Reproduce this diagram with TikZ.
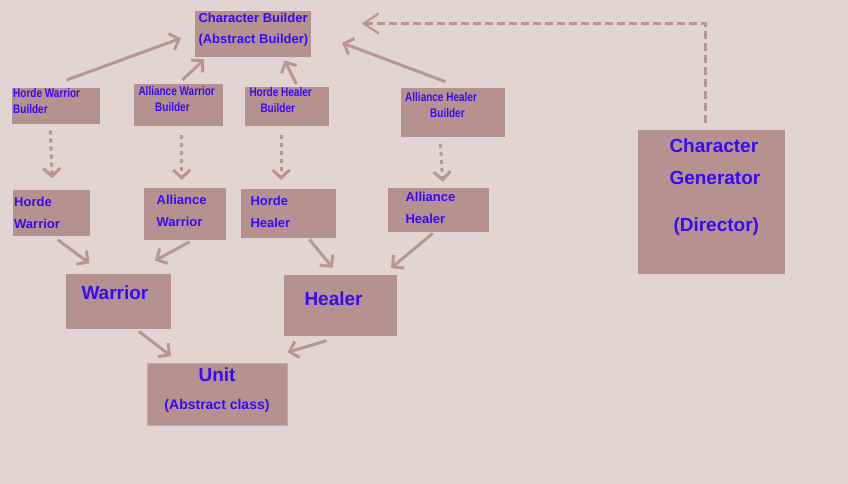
\documentclass[tikz,border=0pt]{standalone}
\usepackage{fontspec}
\setmainfont{Liberation Sans}
\usetikzlibrary{arrows.meta,calc}
\definecolor{bgc}{RGB}{227,212,212}
\definecolor{boxc}{RGB}{181,146,144}
\definecolor{linec}{RGB}{184,150,148}
\definecolor{txtc}{RGB}{56,10,245}
\definecolor{unitc}{RGB}{200,168,166}
\newcommand{\tall}[1]{\scalebox{1}[1.25]{#1}}

\begin{document}
\begin{tikzpicture}[x=1pt, y=-1pt, font=\bfseries,
	box/.style={fill=boxc, inner sep=0pt, anchor=north west},
	lbl/.style={text=txtc, inner sep=0pt, anchor=north west, align=left},
	arr/.style={linec, line width=3pt, -{Straight Barb[length=8pt,width=17pt]}},
	darr/.style={arr, line width=3pt, dash pattern=on 4pt off 4pt},
	dirarr/.style={linec, line width=2.2pt, dash pattern=on 8pt off 4pt, -{Straight Barb[length=15pt,width=20pt]}}]
	\fill[bgc] (0,0) rectangle (848,484);

	\node[box, minimum width=116pt, minimum height=46pt] (cb) at (195,11) {};
	\node[box, minimum width=88pt, minimum height=36pt] (hwb) at (12,88) {};
	\node[box, minimum width=89pt, minimum height=42pt] (awb) at (134,84) {};
	\node[box, minimum width=84pt, minimum height=39pt] (hhb) at (245,87) {};
	\node[box, minimum width=104pt, minimum height=49pt] (ahb) at (401,88) {};
	\node[box, minimum width=147pt, minimum height=144pt] (cg) at (638,130) {};
	\node[box, minimum width=77pt, minimum height=46pt] (hw) at (13,190) {};
	\node[box, minimum width=82pt, minimum height=52pt] (aw) at (144,188) {};
	\node[box, minimum width=95pt, minimum height=49pt] (hh) at (241,189) {};
	\node[box, minimum width=101pt, minimum height=44pt] (ah) at (388,188) {};
	\node[box, minimum width=105pt, minimum height=55pt] (war) at (66,274) {};
	\node[box, minimum width=113pt, minimum height=61pt] (heal) at (284,275) {};
	\node[box, draw=unitc, line width=1pt, minimum width=140pt, minimum height=62pt] (unit) at (147.3,363.3) {};

	\node[lbl, font=\bfseries\fontsize{13}{21}\selectfont] (cbt) at (198.3,13.3) {Character Builder\\(Abstract Builder)};
	\node[lbl, font=\bfseries\fontsize{10}{16}\selectfont] (hwbt) at (13,88.3) {\tall{Horde Warrior}\\\tall{Builder}};
	\node[lbl, font=\bfseries\fontsize{10}{16}\selectfont] (awbt) at (138.3,86.7) {\tall{Alliance Warrior}\\\hspace*{16.7pt}\tall{Builder}};
	\node[lbl, font=\bfseries\fontsize{10}{16}\selectfont] (hhbt) at (249.3,87.7) {\tall{Horde Healer}\\\hspace*{11pt}\tall{Builder}};
	\node[lbl, font=\bfseries\fontsize{10}{16}\selectfont] (ahbt) at (405,92.3) {\tall{Alliance Healer}\\\hspace*{25pt}\tall{Builder}};
	\node[lbl, font=\bfseries\fontsize{19}{31.3}\selectfont] (cgt) at (669.3,139) {Character\\Generator\\[15.7pt]\hspace*{4pt}(Director)};
	\node[lbl, font=\bfseries\fontsize{13}{22}\selectfont] (hwt) at (14,196.7) {Horde\\Warrior};
	\node[lbl, font=\bfseries\fontsize{13}{22}\selectfont] (awt) at (156.5,194.7) {Alliance\\Warrior};
	\node[lbl, font=\bfseries\fontsize{13}{22}\selectfont] (hht) at (250.3,195.7) {Horde\\Healer};
	\node[lbl, font=\bfseries\fontsize{13}{22}\selectfont] (aht) at (405.3,191.7) {Alliance\\Healer};
	\node[lbl, font=\bfseries\fontsize{19}{23}\selectfont] (wart) at (81.3,286) {Warrior};
	\node[lbl, font=\bfseries\fontsize{19}{23}\selectfont] (healt) at (304.3,292) {Healer};
	\node[lbl, anchor=north, align=center, font=\bfseries\fontsize{19}{28.3}\selectfont] (unitt) at (217,367.3) {Unit\\{\fontsize{14}{17}\selectfont(Abstract class)}};

	\draw[arr] ($(hwb.north)+(10.5,-8)$) -- ($(cb.west)+(-14,4)$);
	\draw[arr] ($(awb.north)+(3.7,-4)$) -- ($(cb.south)+(-49,2)$);
	\draw[arr] ($(hhb.north)+(9.2,-3)$) -- ($(cb.south)+(31.3,3)$);
	\draw[arr] ($(ahb.north)+(-7.8,-6.3)$) -- ($(cb.east)+(30.7,8.7)$);
	\draw[dirarr] ($(cg.north)+(-6.3,-6.7)$) |- ($(cb.east)+(50.3,-10.7)$);

	\draw[darr] ($(hwb.south)+(-5.8,6.3)$) -- ($(hw.north)+(0.4,-11.7)$);
	\draw[darr] ($(awb.south)+(3,8.3)$) -- ($(aw.north)+(-3.5,-8)$);
	\draw[darr] ($(hhb.south)+(-6.1,8.3)$) -- ($(hh.north)+(-7.6,-9)$);
	\draw[darr] ($(ahb.south)+(-12.8,6.6)$) -- ($(ah.north)+(4,-6.3)$);

	\draw[arr] ($(hw.south)+(6,3.3)$) -- ($(war.north)+(-29.2,-10.7)$);
	\draw[arr] ($(aw.south)+(4.5,1.3)$) -- ($(war.north)+(36.2,-13.3)$);
	\draw[arr] ($(hh.south)+(20.7,1)$) -- ($(heal.north)+(-8,-7.3)$);
	\draw[arr] ($(ah.south)+(-6,1)$) -- ($(heal.north)+(50.4,-7)$);
	\draw[arr] ($(war.south)+(20.2,2)$) -- ($(unit.north)+(-46.8,-7.3)$);
	\draw[arr] ($(heal.south)+(-14.3,4.3)$) -- ($(unit.north)+(69.8,-11)$);
\end{tikzpicture}
\end{document}
